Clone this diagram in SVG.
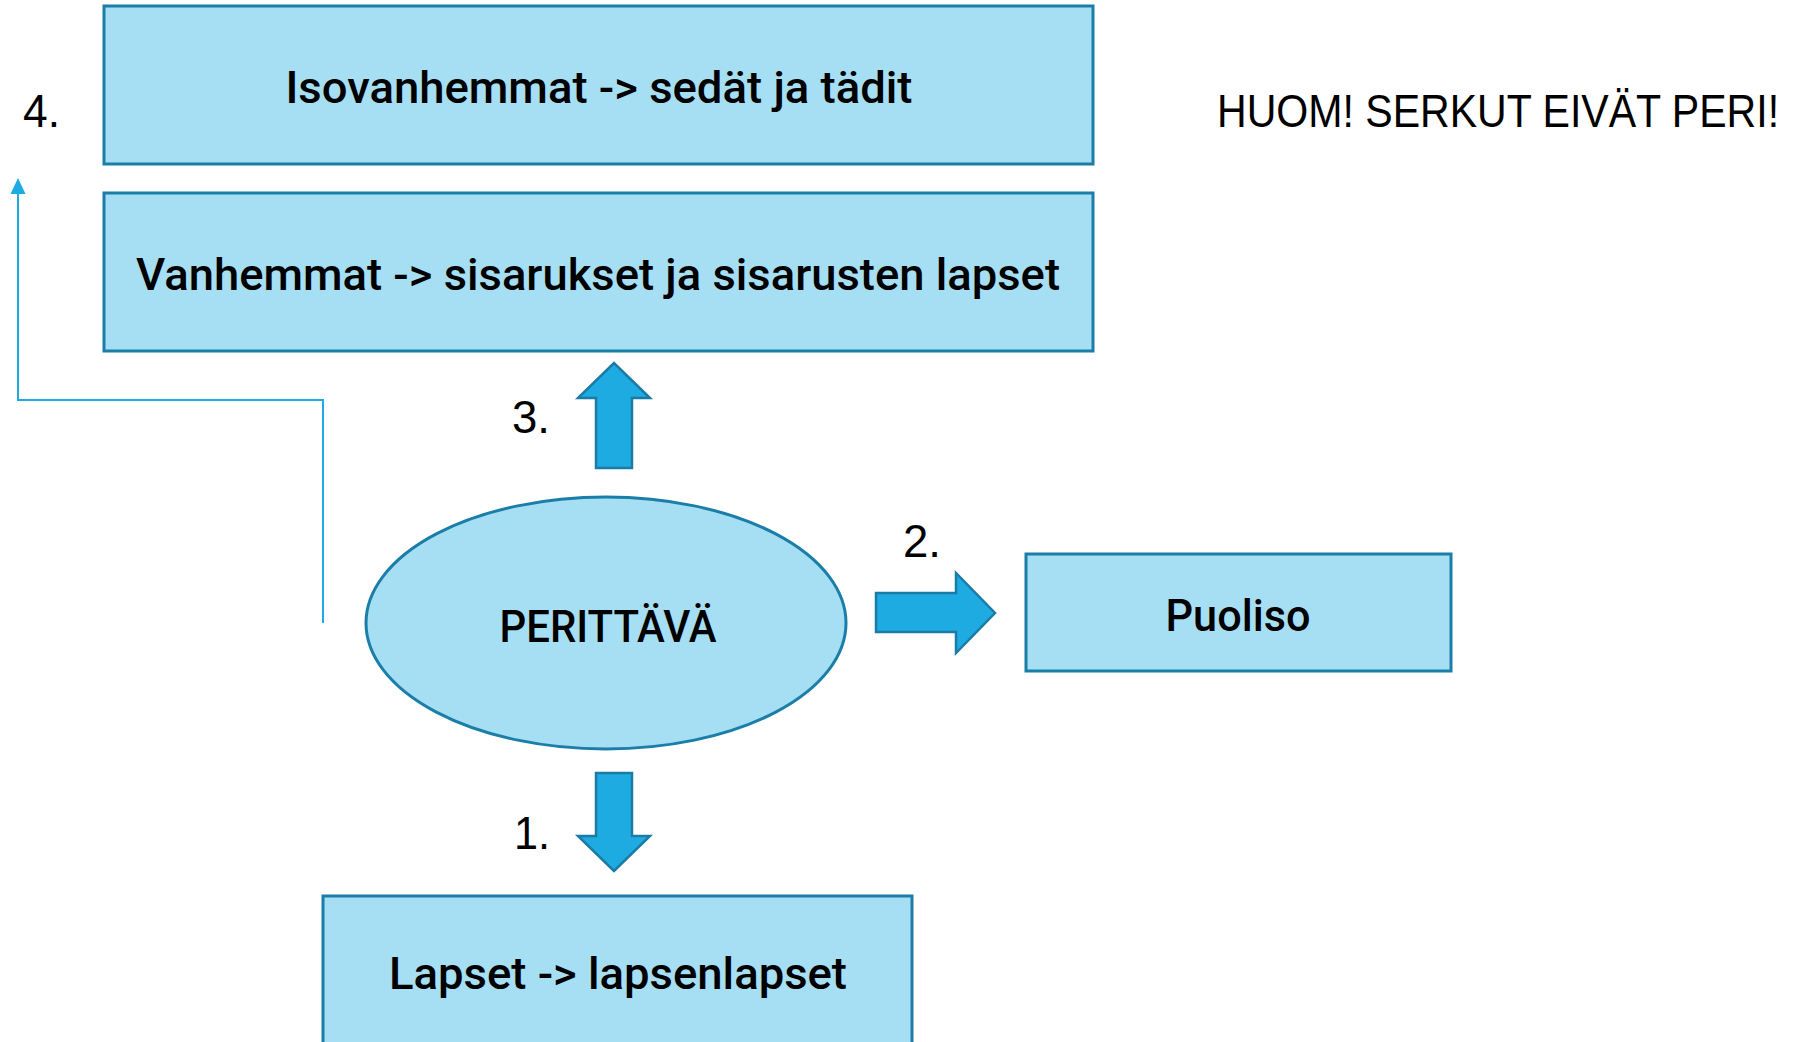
<svg xmlns="http://www.w3.org/2000/svg" width="1808" height="1042" viewBox="0 0 1808 1042">
<style>
.box{fill:#A6DEF3;stroke:#1B7EA8;stroke-width:3}
.blk{fill:#1DABE1;stroke:#1A7CA6;stroke-width:2.5;stroke-linejoin:miter}
.lbl{font-family:Roboto,"Liberation Sans",Arial,sans-serif;font-weight:500;font-size:45px;fill:#000;text-anchor:middle}
.num{font-family:"Liberation Sans",Arial,sans-serif;font-size:46px;fill:#000}
.conn{fill:none;stroke:#1DABE1;stroke-width:2}
</style>
<rect width="1808" height="1042" fill="#fff"/>
<g id="connectors">
<path class="conn" d="M323 623 L323 400 L18 400 L18 190"/>
<polygon points="18,178 25.5,194 10.5,194" fill="#1DABE1"/>
<polygon id="arrow3" class="blk" points="596,468 596,398 578,398 614,363 650,398 632,398 632,468"/>
<polygon id="arrow2" class="blk" points="876,593 956,593 956,573 995,613 956,653 956,632 876,632"/>
<polygon id="arrow1" class="blk" points="596,773 632,773 632,836 650,836 614,871 578,836 596,836"/>
</g>
<g id="node-isovanhemmat">
<rect class="box" x="104" y="6" width="989" height="158"/>
<text class="lbl" x="599" y="103" textLength="627" lengthAdjust="spacingAndGlyphs">Isovanhemmat -&gt; sedät ja tädit</text>
</g>
<g id="node-vanhemmat">
<rect class="box" x="104" y="193" width="989" height="158"/>
<text class="lbl" x="598" y="290" textLength="924" lengthAdjust="spacingAndGlyphs">Vanhemmat -&gt; sisarukset ja sisarusten lapset</text>
</g>
<g id="node-perittava">
<ellipse class="box" cx="606" cy="623" rx="240" ry="126"/>
<text class="lbl" x="608" y="642" textLength="217" lengthAdjust="spacingAndGlyphs">PERITTÄVÄ</text>
</g>
<g id="node-puoliso">
<rect class="box" x="1026" y="554" width="425" height="117"/>
<text class="lbl" x="1238" y="631" textLength="145" lengthAdjust="spacingAndGlyphs">Puoliso</text>
</g>
<g id="node-lapset">
<rect class="box" x="323" y="896" width="589" height="200"/>
<text class="lbl" x="618" y="989" textLength="458" lengthAdjust="spacingAndGlyphs">Lapset -&gt; lapsenlapset</text>
</g>
<g id="labels">
<text class="num" x="23" y="127" textLength="37" lengthAdjust="spacingAndGlyphs">4.</text>
<text class="num" x="512" y="433" textLength="38" lengthAdjust="spacingAndGlyphs">3.</text>
<text class="num" x="903" y="557" textLength="38" lengthAdjust="spacingAndGlyphs">2.</text>
<text class="num" x="514" y="849" textLength="36" lengthAdjust="spacingAndGlyphs">1.</text>
<text class="num" transform="translate(1217 127) scale(0.893 1)" x="0" y="0" font-size="45">HUOM! SERKUT EIVÄT PERI!</text>
</g>
</svg>
